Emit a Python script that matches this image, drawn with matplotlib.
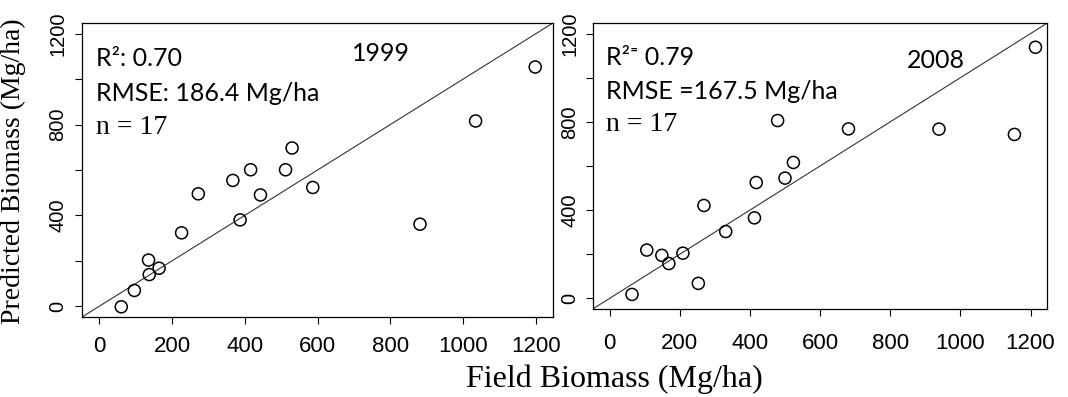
import matplotlib.pyplot as plt

# 1999 field vs predicted biomass (Mg/ha)
field_1999 = [60, 96, 137, 135, 164, 226, 272, 367, 387, 416, 443, 512, 530, 587, 882, 1035, 1199]
pred_1999 = [-3, 69, 139, 203, 167, 323, 495, 554, 380, 601, 490, 601, 697, 523, 361, 816, 1054]

# 2008 field vs predicted biomass (Mg/ha)
field_2008 = [64, 106, 149, 169, 209, 253, 269, 331, 413, 418, 500, 524, 479, 681, 939, 1154, 1214]
pred_2008 = [18, 219, 195, 158, 205, 68, 421, 303, 365, 525, 545, 616, 806, 768, 767, 743, 1138]

ticks = [0, 200, 400, 600, 800, 1000, 1200]
xtick_labels = ['0', '200', '400', '600', '800', '1000', '1200']
ytick_labels = ['0', '', '400', '', '800', '', '1200']
lims = (-48, 1248)

panels = [
    (field_1999, pred_1999, ['R\u00b2: 0.70', 'RMSE: 186.4 Mg/ha'], '1999'),
    (field_2008, pred_2008, ['R\u00b2\u207c 0.79', 'RMSE =167.5 Mg/ha'], '2008'),
]

sans = ['Lato', 'DejaVu Sans']

fig = plt.figure(figsize=(10.68, 3.97), dpi=100)
ax1 = fig.add_axes([0.0768, 0.2015, 0.441, 0.7406])
ax2 = fig.add_axes([0.555, 0.2217, 0.4257, 0.7204])

for ax, (fx, py, stats, year), xpad, ypad in zip([ax1, ax2], panels, [8.5, 12], [5.5, 4.5]):
    ax.axline((0, 0), slope=1, color='#333333', lw=0.8)
    ax.scatter(fx, py, s=75, facecolors='none', edgecolors='black', linewidths=1.1, zorder=3)
    ax.set_xlim(lims)
    ax.set_ylim(lims)
    ax.set_xticks(ticks)
    ax.set_xticklabels(xtick_labels, family='Liberation Sans', fontsize=16)
    ax.set_yticks(ticks)
    ax.set_yticklabels(ytick_labels, family='Liberation Sans', fontsize=14.5,
                       rotation=90, va='center')
    ax.tick_params(axis='x', length=5, width=0.8, pad=xpad)
    ax.tick_params(axis='y', length=5, width=0.8, pad=ypad)
    for sp in ax.spines.values():
        sp.set_linewidth(0.9)
    ax.text(0.03, 0.88, stats[0], transform=ax.transAxes, family=sans, fontsize=18, va='center')
    ax.text(0.03, 0.76, stats[1], transform=ax.transAxes, family=sans, fontsize=18, va='center')
    ax.text(0.03, 0.645, 'n = 17', transform=ax.transAxes, family='Liberation Serif', fontsize=20, va='center')

ax1.text(0.574, 0.895, '1999', transform=ax1.transAxes, family=sans, fontsize=18, va='center')
ax2.text(0.69, 0.87, '2008', transform=ax2.transAxes, family=sans, fontsize=18, va='center')

fig.text(0.013, 0.57, 'Predicted Biomass (Mg/ha)', rotation=90, family='Liberation Serif',
         fontsize=20, ha='center', va='center')
fig.text(0.575, 0.045, 'Field Biomass (Mg/ha)', family='Liberation Serif',
         fontsize=23, ha='center', va='center')

fig.savefig('out.png', dpi=100)
